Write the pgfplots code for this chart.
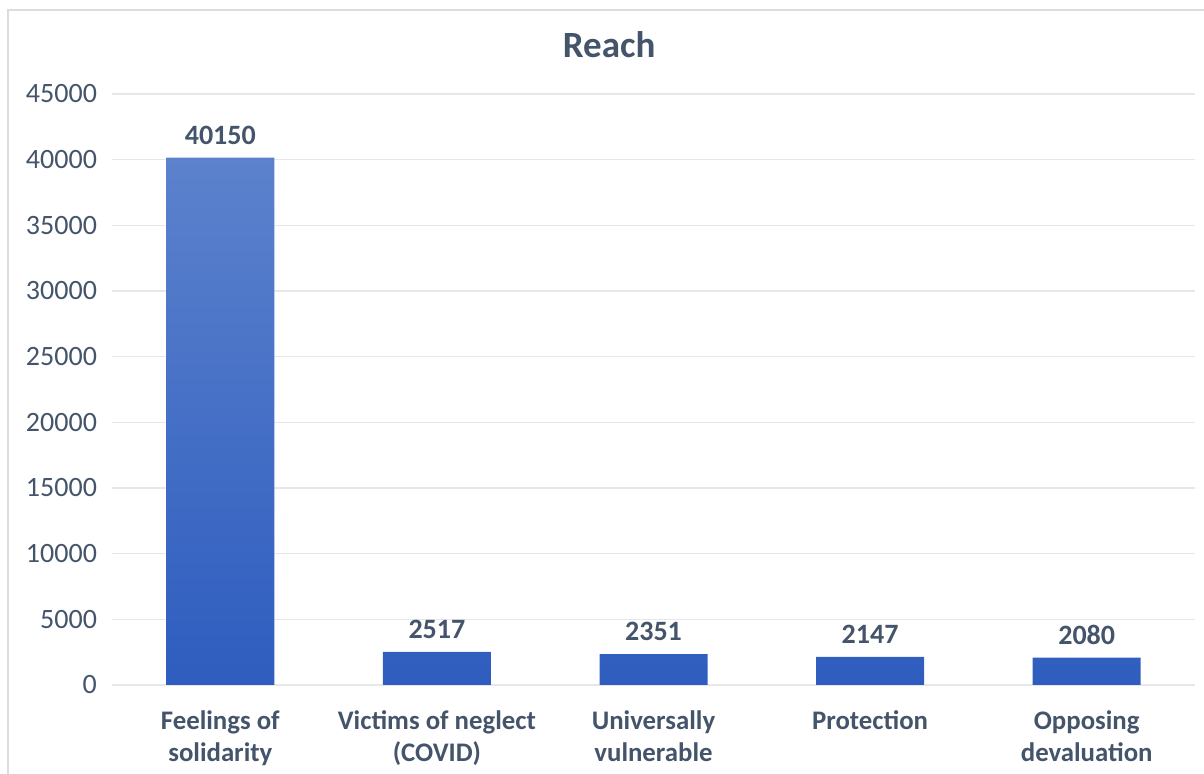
\documentclass[border=0pt]{standalone}
\usepackage{pgfplots}
\pgfplotsset{compat=1.18}
\usepackage{fontspec}
\setmainfont{Carlito}
\definecolor{txt}{HTML}{44546A}
\definecolor{gridc}{HTML}{E7E7EA}
\definecolor{bartop}{HTML}{5C82CD}
\definecolor{barbot}{HTML}{2E5DBF}
\definecolor{frame}{HTML}{DADCE0}
\begin{document}
\begin{tikzpicture}[x=1pt,y=1pt]
\useasboundingbox (-56pt,-44.5pt) rectangle (546pt,342.5pt);
\draw[frame,line width=0.6pt] (-52pt,-44.5pt) -- (-52pt,337.5pt) -- (546pt,337.5pt);
\begin{axis}[
  at={(0,0)}, anchor=south west,
  scale only axis,
  width=541.5pt, height=295.5pt,
  ybar, bar width=54pt,
  xmin=-0.5, xmax=4.5,
  ymin=0, ymax=45000,
  ytick={0,5000,...,45000},
  xtick=data,
  xticklabels={{Feelings of\\solidarity},{Victims of neglect\\(COVID)},{Universally\\vulnerable},{Protection},{Opposing\\devaluation}},
  xticklabel style={align=center, font=\fontsize{13.4}{16}\selectfont\bfseries, text=txt, yshift=-9.5pt},
  x tick label as interval=false,
  yticklabel style={font=\fontsize{14}{16}\selectfont, text=txt, xshift=-4pt},
  /pgf/number format/assume math mode=true,
  /pgf/number format/1000 sep={},
  scaled y ticks=false,
  axis line style={draw=none},
  major tick length=0pt,
  ymajorgrids, grid style={gridc, line width=0.6pt},
  nodes near coords,
  nodes near coords style={font=\fontsize{14}{16}\selectfont\bfseries, text=txt, yshift=3pt},
  every node near coord/.append style={/pgf/number format/assume math mode=true,/pgf/number format/1000 sep={}},
  title={Reach},
  title style={font=\fontsize{18.5}{20}\selectfont\bfseries, text=txt, at={(0.459,1)}, yshift=8.5pt},
  clip=false,
]
\addplot[draw=none, top color=bartop, bottom color=barbot] coordinates {(0,40150) (1,2517) (2,2351) (3,2147) (4,2080)};
\end{axis}
\end{tikzpicture}
\end{document}
